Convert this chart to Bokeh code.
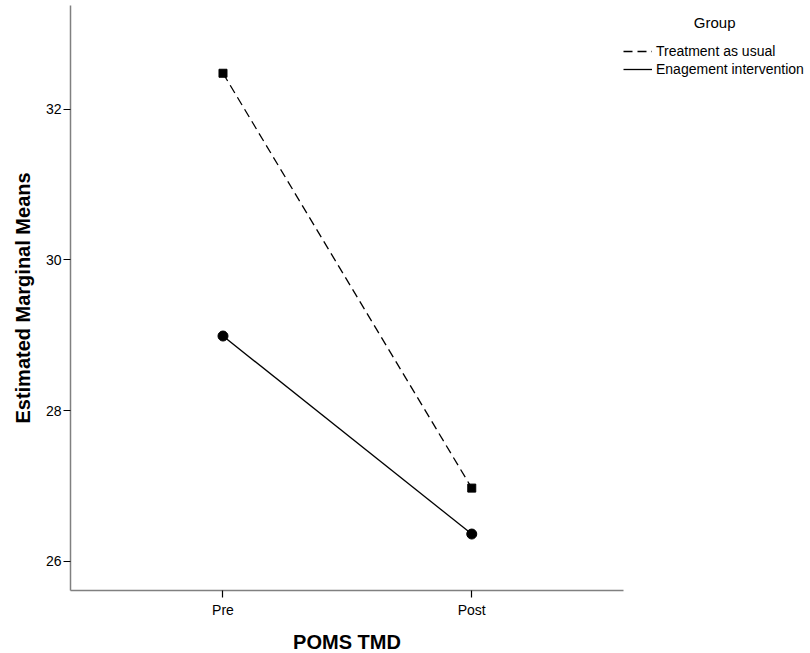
from bokeh.plotting import figure
from bokeh.models import (ColumnDataSource, Range1d, FixedTicker, Legend, LegendItem)
from bokeh.embed import file_html
from bokeh.resources import INLINE

# ---- data ----
categories = ["Pre", "Post"]
treatment_as_usual = [32.48, 26.97]
engagement_intervention = [28.99, 26.36]
y_ticks = [26, 28, 30, 32]
series_names = ["Treatment as usual", "Enagement intervention"]
legend_title = "Group"
x_title = "POMS TMD"
y_title = "Estimated Marginal Means"

xpos = list(range(1, len(categories) + 1))

FONT = "Liberation Sans"

p = figure(frame_width=553, frame_height=585, output_backend="svg", toolbar_location=None,
           x_range=Range1d(0.387, 2.61), y_range=Range1d(25.61, 33.38),
           min_border_left=70, min_border_right=0, min_border_top=5, min_border_bottom=63)
p.outline_line_color = None
p.xgrid.visible = False
p.ygrid.visible = False
p.background_fill_color = "white"
p.border_fill_color = "white"

src_tau = ColumnDataSource(dict(x=xpos, y=treatment_as_usual))
src_ei = ColumnDataSource(dict(x=xpos, y=engagement_intervention))

l1 = p.line("x", "y", source=src_tau, line_color="black", line_width=1.3, line_dash="9 5")
p.scatter("x", "y", source=src_tau, marker="square", size=8, fill_color="black", line_color="black")
l2 = p.line("x", "y", source=src_ei, line_color="black", line_width=1.3)
p.scatter("x", "y", source=src_ei, marker="circle", size=10, fill_color="black", line_color="black")

# axes
p.xaxis.ticker = FixedTicker(ticks=xpos)
p.xaxis.major_label_overrides = {x: c for x, c in zip(xpos, categories)}
p.yaxis.ticker = FixedTicker(ticks=y_ticks)
for ax in (p.xaxis[0], p.yaxis[0]):
    ax.axis_line_color = "#808080"
    ax.axis_line_width = 1.5
    ax.major_tick_line_color = "black"
    ax.major_tick_line_width = 1.2
    ax.major_tick_in = 0
    ax.minor_tick_line_color = None
    ax.major_label_text_font = FONT
    ax.major_label_text_font_size = "14px"
    ax.major_label_text_color = "black"
    ax.axis_label_text_font = FONT
    ax.axis_label_text_font_size = "20px"
    ax.axis_label_text_font_style = "bold"
    ax.axis_label_text_color = "black"
p.xaxis.major_tick_out = 7
p.yaxis.major_tick_out = 7
p.xaxis.major_label_standoff = 4
p.yaxis.major_label_standoff = 2
p.xaxis.axis_label = x_title
p.yaxis.axis_label = y_title
p.xaxis.axis_label_standoff = 10
p.yaxis.axis_label_standoff = 9

legend = Legend(items=[LegendItem(label=series_names[0], renderers=[l1]),
                       LegendItem(label=series_names[1], renderers=[l2])],
                location=(0, 512), orientation="vertical",
                title="\u00a0" * 17 + legend_title)
legend.background_fill_alpha = 0
legend.border_line_alpha = 0
legend.padding = 0
legend.margin = 0
legend.spacing = 0
legend.glyph_width = 29
legend.glyph_height = 18
legend.label_height = 18
legend.label_width = 154
legend.label_standoff = 4
legend.label_text_font = FONT
legend.label_text_font_size = "14px"
legend.label_text_color = "black"
legend.title_text_font = FONT
legend.title_text_font_size = "15px"
legend.title_text_font_style = "normal"
legend.title_text_color = "black"
legend.title_standoff = 11
p.add_layout(legend, "right")

open("out.html", "w").write(file_html(p, INLINE))
